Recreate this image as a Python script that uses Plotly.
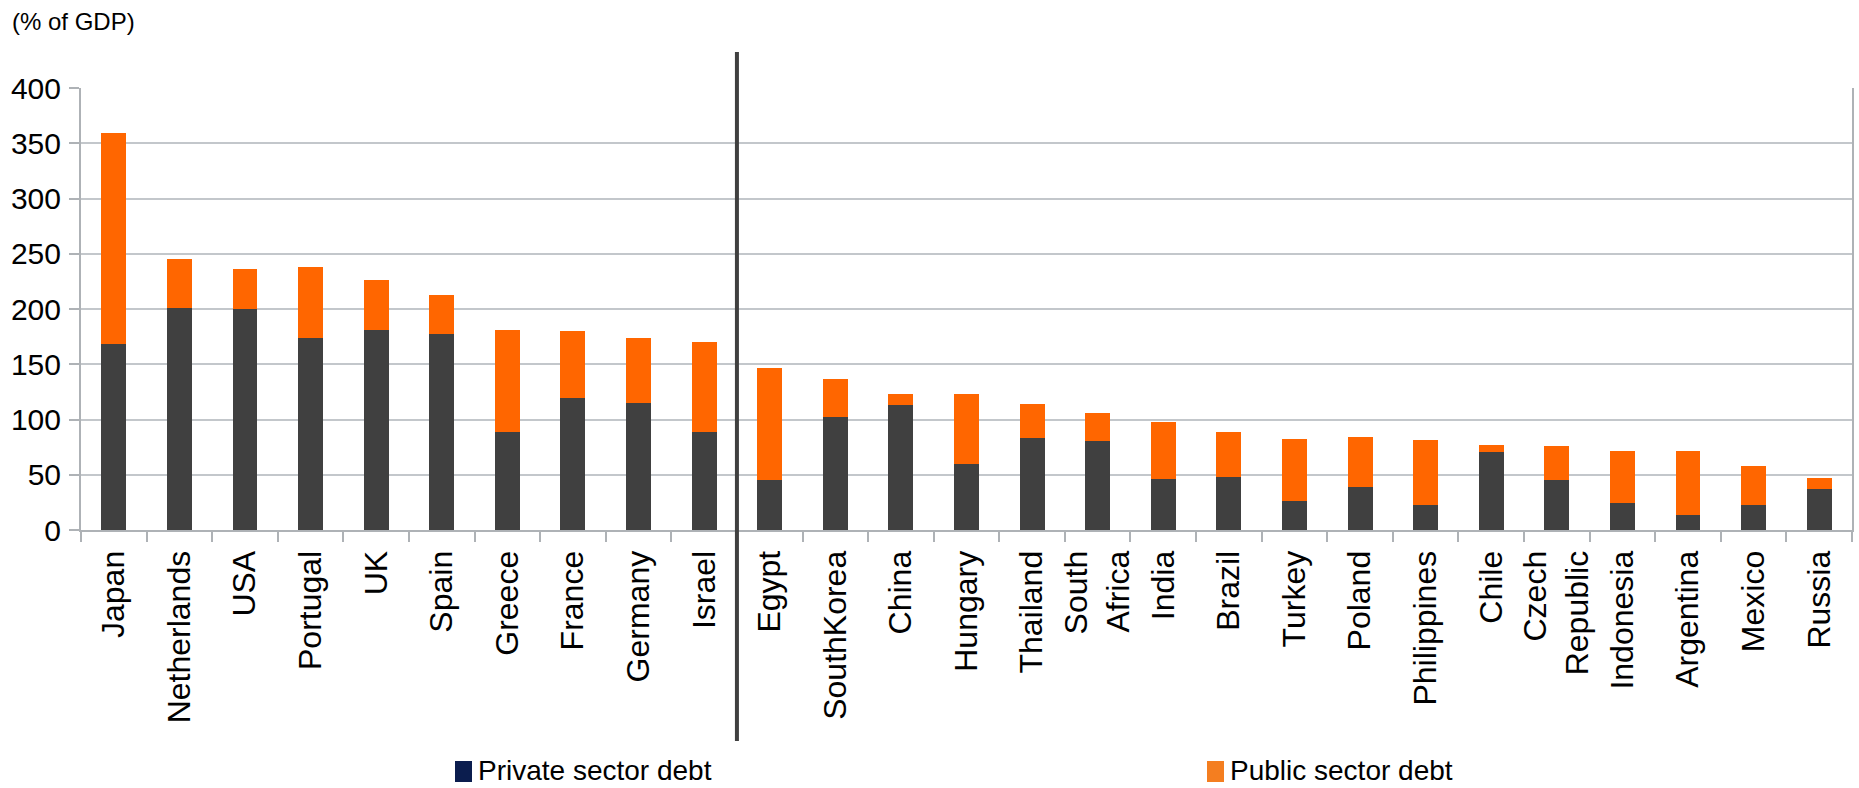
import plotly.graph_objects as go

countries = ["Japan", "Netherlands", "USA", "Portugal", "UK", "Spain", "Greece", "France",
             "Germany", "Israel", "Egypt", "SouthKorea", "China", "Hungary", "Thailand",
             "South<br>Africa", "India", "Brazil", "Turkey", "Poland", "Philippines", "Chile",
             "Czech<br>Republic", "Indonesia", "Argentina", "Mexico", "Russia"]
private_debt = [168, 201, 200, 174, 181, 177, 88.5, 119.5, 115, 88.5, 45.5, 102, 113, 60, 83,
                81, 46.5, 48, 26.5, 38.5, 23, 71, 45, 24, 14, 23, 37]
public_debt = [191, 44, 36, 64, 45, 36, 92.5, 61, 59, 82, 101, 34.5, 10, 63, 31,
               24.5, 51.5, 41, 55.5, 45.5, 58.5, 6, 31, 47.5, 57.5, 34.5, 10]
y_ticks = [0, 50, 100, 150, 200, 250, 300, 350, 400]
legend_names = ["Private sector debt", "Public sector debt"]

FONT = "Liberation Sans, Arial, sans-serif"
W, H = 1859, 788
L, R, T, B = 81, 7, 88, 258
PW, PH = W - L - R, H - T - B

def px_x(px):
    return (px - L) / PW

def px_y(py):
    return (H - B - py) / PH

fig = go.Figure()
fig.add_trace(go.Bar(x=countries, y=private_debt, name=legend_names[0],
                     marker=dict(color="#404040", line=dict(width=0)),
                     width=0.38, showlegend=False))
fig.add_trace(go.Bar(x=countries, y=public_debt, name=legend_names[1],
                     marker=dict(color="#FF6600", line=dict(width=0)),
                     width=0.38, showlegend=False))

shapes = [
    dict(type="line", xref="x", yref="paper", x0=9.5, x1=9.5,
         y0=px_y(741), y1=px_y(52), line=dict(color="#404040", width=4), layer="above"),
    dict(type="rect", xref="paper", yref="paper", x0=px_x(455), x1=px_x(472),
         y0=px_y(782), y1=px_y(761), fillcolor="#0B1D4E", line=dict(width=0)),
    dict(type="rect", xref="paper", yref="paper", x0=px_x(1207), x1=px_x(1224),
         y0=px_y(782), y1=px_y(761), fillcolor="#F47E20", line=dict(width=0)),
]
annotations = [
    dict(text="(% of GDP)", xref="paper", yref="paper", x=px_x(10), y=px_y(21),
         xanchor="left", yanchor="middle", showarrow=False,
         font=dict(family=FONT, size=24, color="#000000")),
    dict(text=legend_names[0], xref="paper", yref="paper", x=px_x(476), y=px_y(771),
         xanchor="left", yanchor="middle", showarrow=False,
         font=dict(family=FONT, size=28, color="#000000")),
    dict(text=legend_names[1], xref="paper", yref="paper", x=px_x(1228), y=px_y(771),
         xanchor="left", yanchor="middle", showarrow=False,
         font=dict(family=FONT, size=28, color="#000000")),
]

fig.update_layout(
    width=W, height=H,
    margin=dict(l=L, r=R, t=T, b=B, autoexpand=False),
    barmode="stack",
    plot_bgcolor="#FFFFFF", paper_bgcolor="#FFFFFF",
    showlegend=False,
    shapes=shapes,
    annotations=annotations,
    xaxis=dict(
        type="category", tickangle=-90, tickson="boundaries",
        ticks="outside", ticklen=10, tickwidth=2, tickcolor="#AEB2B6",
        showline=True, linecolor="#AEB2B6", linewidth=2,
        showgrid=False, ticklabelstandoff=6,
        tickfont=dict(family=FONT, size=32, color="#000000"),
        range=[-0.5, len(countries) - 0.5],
    ),
    yaxis=dict(
        range=[0, 400], tickvals=y_ticks,
        ticks="outside", ticklen=10, tickwidth=2, tickcolor="#AEB2B6",
        showline=True, linecolor="#AEB2B6", linewidth=2, mirror=True,
        showgrid=True, gridcolor="#C3C7CB", gridwidth=2,
        zeroline=False, ticklabelstandoff=2,
        tickfont=dict(family=FONT, size=30, color="#000000"),
    ),
)

fig.write_html("out.html")
